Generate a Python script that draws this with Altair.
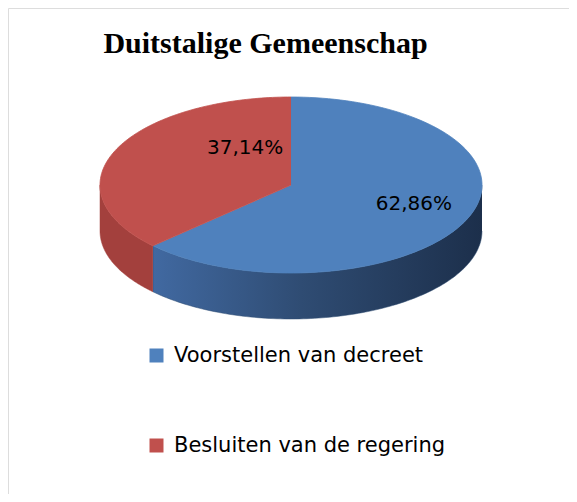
import altair as alt
import pandas as pd

title = "Duitstalige Gemeenschap"
categories = ["Voorstellen van decreet", "Besluiten van de regering"]
values = [62.86, 37.14]
labels = ["62,86%", "37,14%"]
colors = ["#4F81BD", "#C0504D"]

# layout (pixel space of the picture)
CX, CY, RX, RY, DEPTH = 291, 185, 191, 88, 46
N = 120
W, H = 561, 486

df = pd.DataFrame({"category": categories, "value": values,
                   "label": labels, "idx": list(range(len(categories)))})

xs = alt.Scale(domain=[8, 8 + W], nice=False, zero=False)
ys = alt.Scale(domain=[8, 8 + H], nice=False, zero=False, reverse=True)

base = alt.Chart(df).transform_window(
    cum="sum(value)", sort=[alt.SortField("idx")]
).transform_joinaggregate(
    total="sum(value)"
).transform_calculate(
    a0="2*PI*(datum.cum - datum.value)/datum.total",
    a1="2*PI*datum.cum/datum.total",
)

# side walls (visible front half)
wall_data = base.transform_calculate(
    b0="max(datum.a0, PI/2)",
    b1="min(datum.a1, 3*PI/2)",
    steps=f"sequence(0, {2*N+2})",
).transform_filter("datum.b1 > datum.b0").transform_flatten(["steps"]).transform_calculate(
    u=f"datum.steps <= {N} ? datum.steps/{N} : ({2*N+1} - datum.steps)/{N}",
    t="datum.b0 + (datum.b1 - datum.b0)*datum.u",
    px=f"{CX} + {RX}*sin(datum.t)",
    py=f"{CY} - {RY}*cos(datum.t) + (datum.steps <= {N} ? 0 : {DEPTH})",
)

enc_xy = dict(
    x=alt.X("px:Q", scale=xs, axis=None),
    y=alt.Y("py:Q", scale=ys, axis=None),
    order=alt.Order("steps:Q"),
    detail="category:N",
)

blue_grad = alt.Gradient(
    gradient="linear", x1=0, x2=1, y1=0, y2=0,
    stops=[alt.GradientStop(color="#4169a1", offset=0),
           alt.GradientStop(color="#2f4c73", offset=0.45),
           alt.GradientStop(color="#1c2f4b", offset=1)],
)

wall_blue = wall_data.transform_filter("datum.idx == 0").mark_line(
    fill=blue_grad, stroke="#2f4c73", strokeWidth=0.5
).encode(**enc_xy)

wall_red = wall_data.transform_filter("datum.idx == 1").mark_line(
    fill="#a3403d", stroke="#a3403d", strokeWidth=0.5
).encode(**enc_xy)

# top face
top = base.transform_calculate(
    steps=f"sequence(-1, {N+1})"
).transform_flatten(["steps"]).transform_calculate(
    t=f"datum.a0 + (datum.a1 - datum.a0)*datum.steps/{N}",
    px=f"datum.steps < 0 ? {CX} : {CX} + {RX}*sin(datum.t)",
    py=f"datum.steps < 0 ? {CY} : {CY} - {RY}*cos(datum.t)",
).mark_line(strokeWidth=0.8).encode(
    fill=alt.Fill("category:N", sort=categories,
                  scale=alt.Scale(domain=categories, range=colors),
                  legend=alt.Legend(
                      title=None, orient="none", legendX=138, legendY=337,
                      direction="vertical", symbolType="square", symbolSize=196,
                      symbolStrokeWidth=0, labelFont="DejaVu Sans", labelFontSize=21,
                      labelColor="#000000", labelOffset=7, rowPadding=68,
                      padding=0, labelLimit=400)),
    stroke=alt.Stroke("category:N", sort=categories,
                      scale=alt.Scale(domain=categories, range=colors), legend=None),
    **enc_xy,
)

# percentage labels
lab = base.transform_calculate(
    m="(datum.a0 + datum.a1)/2",
    lx=f"{CX} + 0.7*{RX}*sin(datum.m)",
    ly=f"{CY} - 0.7*{RY}*cos(datum.m)",
)
lab_enc = dict(x=alt.X("lx:Q", scale=xs, axis=None),
               y=alt.Y("ly:Q", scale=ys, axis=None),
               text="label:N")
lab_blue = lab.transform_filter("datum.idx == 0").mark_text(
    font="DejaVu Sans", fontSize=20, color="#000000", dy=-5
).encode(**lab_enc)
lab_red = lab.transform_filter("datum.idx == 1").mark_text(
    font="DejaVu Sans", fontSize=20, color="#000000", dx=77, dy=-13
).encode(**lab_enc)

title_mark = alt.Chart(pd.DataFrame({"t": [title]})).mark_text(
    font="Liberation Serif", fontSize=30, fontWeight="bold", color="#000000",
    baseline="alphabetic", align="center"
).encode(x=alt.value(257.5), y=alt.value(45), text="t:N")

chart = alt.layer(wall_blue, wall_red, top, lab_blue, lab_red, title_mark).properties(
    width=W, height=H, autosize=alt.AutoSizeParams(type="none"), padding=0,
).configure_view(stroke=None).configure(background="#ffffff")

chart.save("out.html", embed_options={"renderer": "svg", "actions": False})
